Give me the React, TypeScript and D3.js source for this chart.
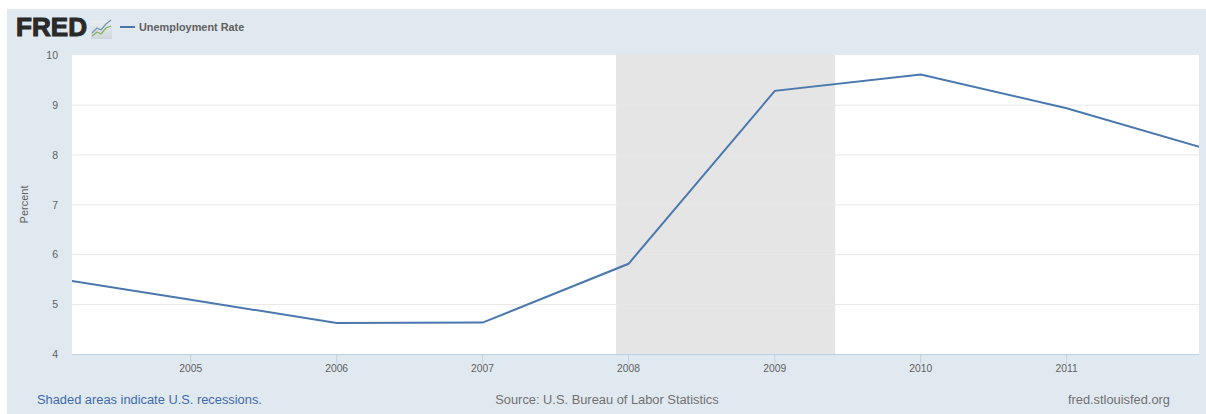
import React from "react";
import * as d3 from "d3";

const years = [2004, 2005, 2006, 2007, 2008, 2009, 2010, 2011, 2012];
const rates = [5.55, 5.09, 4.62, 4.63, 5.81, 9.28, 9.61, 8.93, 8.08];
const yTicks = [4, 5, 6, 7, 8, 9, 10];
const xTickYears = [2005, 2006, 2007, 2008, 2009, 2010, 2011];
const recessionStart = new Date(2007, 11, 1);
const recessionEnd = new Date(2009, 5, 1);
const domainStart = new Date(2004, 2, 10);
const domainEnd = new Date(2011, 10, 28);

const W = 1206, H = 414;
const P = { l: 72, r: 1199, t: 55, b: 354 };
const font = "Arial, 'Liberation Sans', sans-serif";

export default function App() {
  const x = d3.scaleTime().domain([domainStart, domainEnd]).range([P.l, P.r]);
  const y = d3.scaleLinear().domain([4, 10]).range([P.b, P.t]);
  const pts = years.map((yr, i) => [new Date(yr, 0, 1), rates[i]] as [Date, number]);
  const line = d3.line<[Date, number]>().x((d) => x(d[0])).y((d) => y(d[1]));
  return (
    <svg width={W} height={H} style={{ position: "absolute", left: 0, top: 0, display: "block" }} fontFamily={font}>
      <defs>
        <clipPath id="plot"><rect x={P.l} y={P.t} width={P.r - P.l} height={P.b - P.t} /></clipPath>
        <linearGradient id="icon" x1="0" y1="0" x2="0" y2="1">
          <stop offset="0" stopColor="#e9edf0" />
          <stop offset="1" stopColor="#cfd6da" />
        </linearGradient>
      </defs>
      <rect x={7} y={9} width={W - 7} height={H - 9} fill="#e1e9f0" />
      <rect x={P.l} y={P.t} width={P.r - P.l} height={P.b - P.t} fill="#ffffff" />
      <rect x={x(recessionStart)} y={P.t} width={x(recessionEnd) - x(recessionStart)} height={P.b - P.t} fill="#e5e5e5" />
      {yTicks.slice(1, -1).map((t) => (
        <line key={t} x1={P.l} x2={P.r} y1={y(t) + 0.3} y2={y(t) + 0.3} stroke="#e8e8e8" strokeWidth={1} />
      ))}
      <line x1={P.l} x2={P.r} y1={P.b + 0.5} y2={P.b + 0.5} stroke="#c0d0e0" strokeWidth={1} />
      {xTickYears.map((yr) => {
        const px = x(new Date(yr, 0, 1));
        return (
          <g key={yr}>
            <line x1={px} x2={px} y1={P.b} y2={P.b + 10} stroke="#c0d0e0" strokeWidth={1} />
            <text x={px} y={372} textAnchor="middle" fontSize={10.3} fill="#606060">{yr}</text>
          </g>
        );
      })}
      {yTicks.map((t) => (
        <text key={t} x={58} y={y(t) + 4} textAnchor="end" fontSize={10.5} fill="#606060">{t}</text>
      ))}
      <text transform={`translate(28 ${(P.t + P.b) / 2 + 0}) rotate(-90)`} textAnchor="middle" fontSize={11} fill="#606060">Percent</text>
      <path d={line(pts) ?? ""} fill="none" stroke="#4a78ae" strokeWidth={2} clipPath="url(#plot)" />
      <text x={16} y={36} fontSize={25} fontWeight={700} fill="#2a2a2a" stroke="#2a2a2a" strokeWidth={1} textLength={71} lengthAdjust="spacingAndGlyphs">FRED</text>
      <rect x={91} y={21} width={21} height={18} fill="url(#icon)" />
      <polyline points="92,36 97,32 101,34 106,28 111,26" fill="none" stroke="#7fae5a" strokeWidth={1.2} />
      <polyline points="92,33 97,28 101,30 106,24 111,20" fill="none" stroke="#6f94bb" strokeWidth={1.2} />
      <line x1={120} x2={135} y1={27} y2={27} stroke="#4a78ae" strokeWidth={2} />
      <text x={139} y={31} fontSize={10.9} fontWeight={700} fill="#606060">Unemployment Rate</text>
      <text x={37} y={404} fontSize={12.85} fill="#4069a8">Shaded areas indicate U.S. recessions.</text>
      <text x={607} y={404} textAnchor="middle" fontSize={12.85} fill="#707070">Source: U.S. Bureau of Labor Statistics</text>
      <text x={1170} y={404} textAnchor="end" fontSize={12.85} fill="#707070">fred.stlouisfed.org</text>
    </svg>
  );
}
